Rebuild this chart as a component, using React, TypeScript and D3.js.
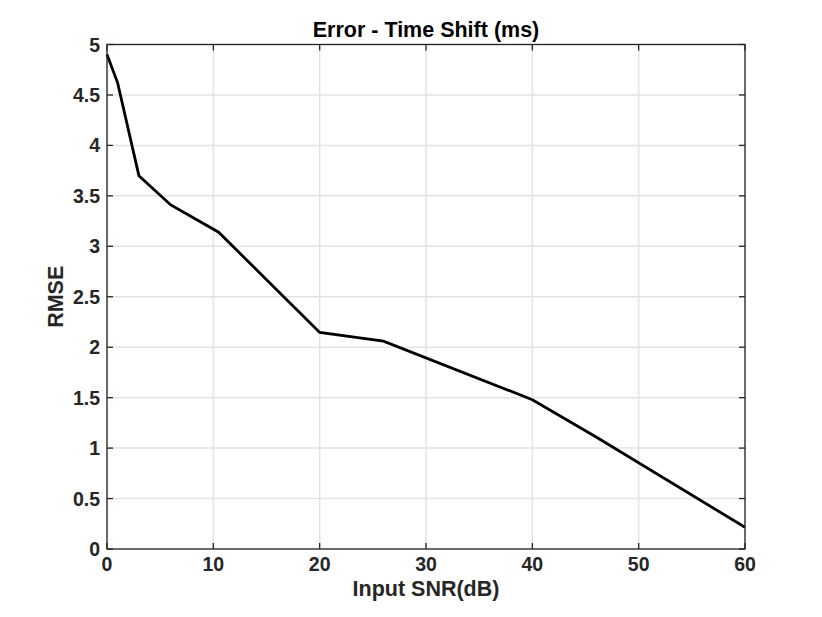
import React from "react";
import * as d3 from "d3";

const snrValues = [0, 1, 3, 6, 10.5, 20, 26, 40, 46, 60];
const rmseValues = [4.9, 4.62, 3.7, 3.41, 3.14, 2.146, 2.06, 1.48, 1.11, 0.215];
const xTicks = [0, 10, 20, 30, 40, 50, 60];
const yTicks = [0, 0.5, 1, 1.5, 2, 2.5, 3, 3.5, 4, 4.5, 5];
const yTickLabels = ["0", "0.5", "1", "1.5", "2", "2.5", "3", "3.5", "4", "4.5", "5"];
const titleText = "Error - Time Shift (ms)";
const xLabel = "Input SNR(dB)";
const yLabel = "RMSE";

export default function App() {
  const W = 822, H = 617;
  const left = 107, right = 745, top = 44.5, bottom = 549;
  const x = d3.scaleLinear().domain([0, 60]).range([left, right]);
  const y = d3.scaleLinear().domain([0, 5]).range([bottom, top]);
  const pts: [number, number][] = snrValues.map((v, i) => [v, rmseValues[i]]);
  const line = d3.line<[number, number]>().x(d => x(d[0])).y(d => y(d[1]));
  const font = "'Liberation Sans', Arial, Helvetica, sans-serif";
  const axisColor = "#262626";
  const tl = 6;
  return (
    <svg width={W} height={H} style={{ position: "absolute", left: 0, top: 0 }} fontFamily={font}>
      <rect x={0} y={0} width={W} height={H} fill="#fff" />
      {xTicks.map(t => (
        <line key={"gx" + t} x1={x(t)} x2={x(t)} y1={top} y2={bottom} stroke="#e3e3e3" strokeWidth={1.5} />
      ))}
      {yTicks.map(t => (
        <line key={"gy" + t} x1={left} x2={right} y1={y(t)} y2={y(t)} stroke="#e3e3e3" strokeWidth={1.5} />
      ))}
      <path d={line(pts) || ""} fill="none" stroke="#000" strokeWidth={2.8} strokeLinejoin="miter" />
      <rect x={left} y={top} width={right - left} height={bottom - top} fill="none" stroke={axisColor} strokeWidth={1.3} />
      {xTicks.map(t => (
        <g key={"tx" + t}>
          <line x1={x(t)} x2={x(t)} y1={bottom} y2={bottom - tl} stroke={axisColor} strokeWidth={1.3} />
          <line x1={x(t)} x2={x(t)} y1={top} y2={top + tl} stroke={axisColor} strokeWidth={1.3} />
          <text x={x(t)} y={571} textAnchor="middle" fontSize={19.5} fontWeight="bold" fill={axisColor}>{t}</text>
        </g>
      ))}
      {yTicks.map((t, i) => (
        <g key={"ty" + t}>
          <line x1={left} x2={left + tl} y1={y(t)} y2={y(t)} stroke={axisColor} strokeWidth={1.3} />
          <line x1={right} x2={right - tl} y1={y(t)} y2={y(t)} stroke={axisColor} strokeWidth={1.3} />
          <text x={100} y={y(t) + 7} textAnchor="end" fontSize={19.5} fontWeight="bold" fill={axisColor}>{yTickLabels[i]}</text>
        </g>
      ))}
      <text x={(left + right) / 2} y={37} textAnchor="middle" fontSize={21.5} fontWeight="bold" fill="#000">{titleText}</text>
      <text x={(left + right) / 2} y={596} textAnchor="middle" fontSize={21.5} fontWeight="bold" fill={axisColor}>{xLabel}</text>
      <text transform={`translate(63,${(top + bottom) / 2}) rotate(-90)`} textAnchor="middle" fontSize={21.5} fontWeight="bold" fill={axisColor}>{yLabel}</text>
    </svg>
  );
}
